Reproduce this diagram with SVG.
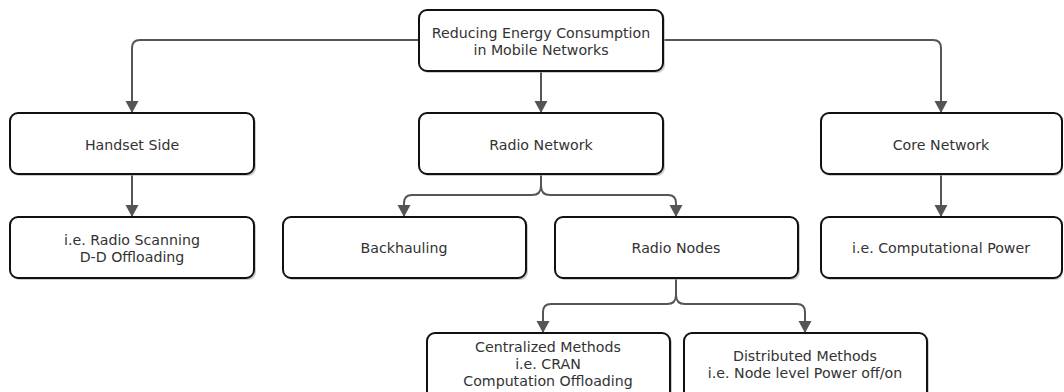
<svg xmlns="http://www.w3.org/2000/svg" width="1064" height="392" viewBox="0 0 1064 392">
  <defs>
    <marker id="arrow" markerWidth="14" markerHeight="14" refX="11" refY="6.5" orient="auto" markerUnits="userSpaceOnUse">
      <path d="M0,0 L12,6.5 L0,13 Z" fill="#555"/>
    </marker>
  </defs>
  <style>
    .box { fill: #fff; stroke: #111; stroke-width: 2; }
    .shadow { fill: #aaa; stroke: none; opacity: 0.6; }
    .lbl { font-family: "DejaVu Sans", Verdana, sans-serif; font-size: 14.2px; fill: #333; text-anchor: middle; }
    .conn { fill: none; stroke: #555; stroke-width: 2; marker-end: url(#arrow); }
  </style>

  <g id="connectors">
    <!-- root to the three branches -->
    <path class="conn" d="M419,40 H140 Q132,40 132,48 V112"/>
    <path class="conn" d="M541,71 V112"/>
    <path class="conn" d="M663,40 H933 Q941,40 941,48 V112"/>
    <!-- single children -->
    <path class="conn" d="M132,174 V216"/>
    <path class="conn" d="M941,174 V216"/>
    <!-- radio network split -->
    <path class="conn" d="M541,174 V186 Q541,195 532,195 H412 Q404,195 404,203 V216"/>
    <path class="conn" d="M541,186 Q541,195 550,195 H668 Q676,195 676,203 V216"/>
    <!-- radio nodes split -->
    <path class="conn" d="M676,278 V295 Q676,304 667,304 H551 Q543,304 543,312 V332"/>
    <path class="conn" d="M676,295 Q676,304 685,304 H797 Q805,304 805,312 V332"/>
  </g>

  <g id="root">
    <rect class="shadow" x="421" y="12" width="244" height="61" rx="8"/>
    <rect class="box" x="419" y="10" width="244" height="61" rx="8"/>
    <text class="lbl" x="541" y="38">Reducing Energy Consumption</text>
    <text class="lbl" x="541" y="55">in Mobile Networks</text>
  </g>

  <g id="handset">
    <rect class="shadow" x="12" y="115" width="244" height="61" rx="8"/>
    <rect class="box" x="10" y="113" width="244" height="61" rx="8"/>
    <text class="lbl" x="132" y="150">Handset Side</text>
  </g>

  <g id="radio-network">
    <rect class="shadow" x="421" y="115" width="244" height="61" rx="8"/>
    <rect class="box" x="419" y="113" width="244" height="61" rx="8"/>
    <text class="lbl" x="541" y="150">Radio Network</text>
  </g>

  <g id="core-network">
    <rect class="shadow" x="823" y="115" width="240" height="61" rx="8"/>
    <rect class="box" x="821" y="113" width="241" height="61" rx="8"/>
    <text class="lbl" x="941" y="150">Core Network</text>
  </g>

  <g id="radio-scanning">
    <rect class="shadow" x="12" y="219" width="244" height="61" rx="8"/>
    <rect class="box" x="10" y="217" width="244" height="61" rx="8"/>
    <text class="lbl" x="132" y="245">i.e. Radio Scanning</text>
    <text class="lbl" x="132" y="262">D-D Offloading</text>
  </g>

  <g id="backhauling">
    <rect class="shadow" x="285" y="219" width="243" height="61" rx="8"/>
    <rect class="box" x="283" y="217" width="243" height="61" rx="8"/>
    <text class="lbl" x="404" y="253">Backhauling</text>
  </g>

  <g id="radio-nodes">
    <rect class="shadow" x="557" y="219" width="243" height="61" rx="8"/>
    <rect class="box" x="555" y="217" width="243" height="61" rx="8"/>
    <text class="lbl" x="676" y="253">Radio Nodes</text>
  </g>

  <g id="computational-power">
    <rect class="shadow" x="823" y="219" width="240" height="61" rx="8"/>
    <rect class="box" x="821" y="217" width="241" height="61" rx="8"/>
    <text class="lbl" x="941" y="253">i.e. Computational Power</text>
  </g>

  <g id="centralized">
    <rect class="shadow" x="429" y="335" width="243" height="70" rx="8"/>
    <rect class="box" x="427" y="333" width="243" height="70" rx="8"/>
    <text class="lbl" x="548" y="352">Centralized Methods</text>
    <text class="lbl" x="548" y="369">i.e. CRAN</text>
    <text class="lbl" x="548" y="386">Computation Offloading</text>
  </g>

  <g id="distributed">
    <rect class="shadow" x="686" y="335" width="243" height="70" rx="8"/>
    <rect class="box" x="684" y="333" width="243" height="70" rx="8"/>
    <text class="lbl" x="805" y="361">Distributed Methods</text>
    <text class="lbl" x="805" y="378">i.e. Node level Power off/on</text>
  </g>
</svg>
